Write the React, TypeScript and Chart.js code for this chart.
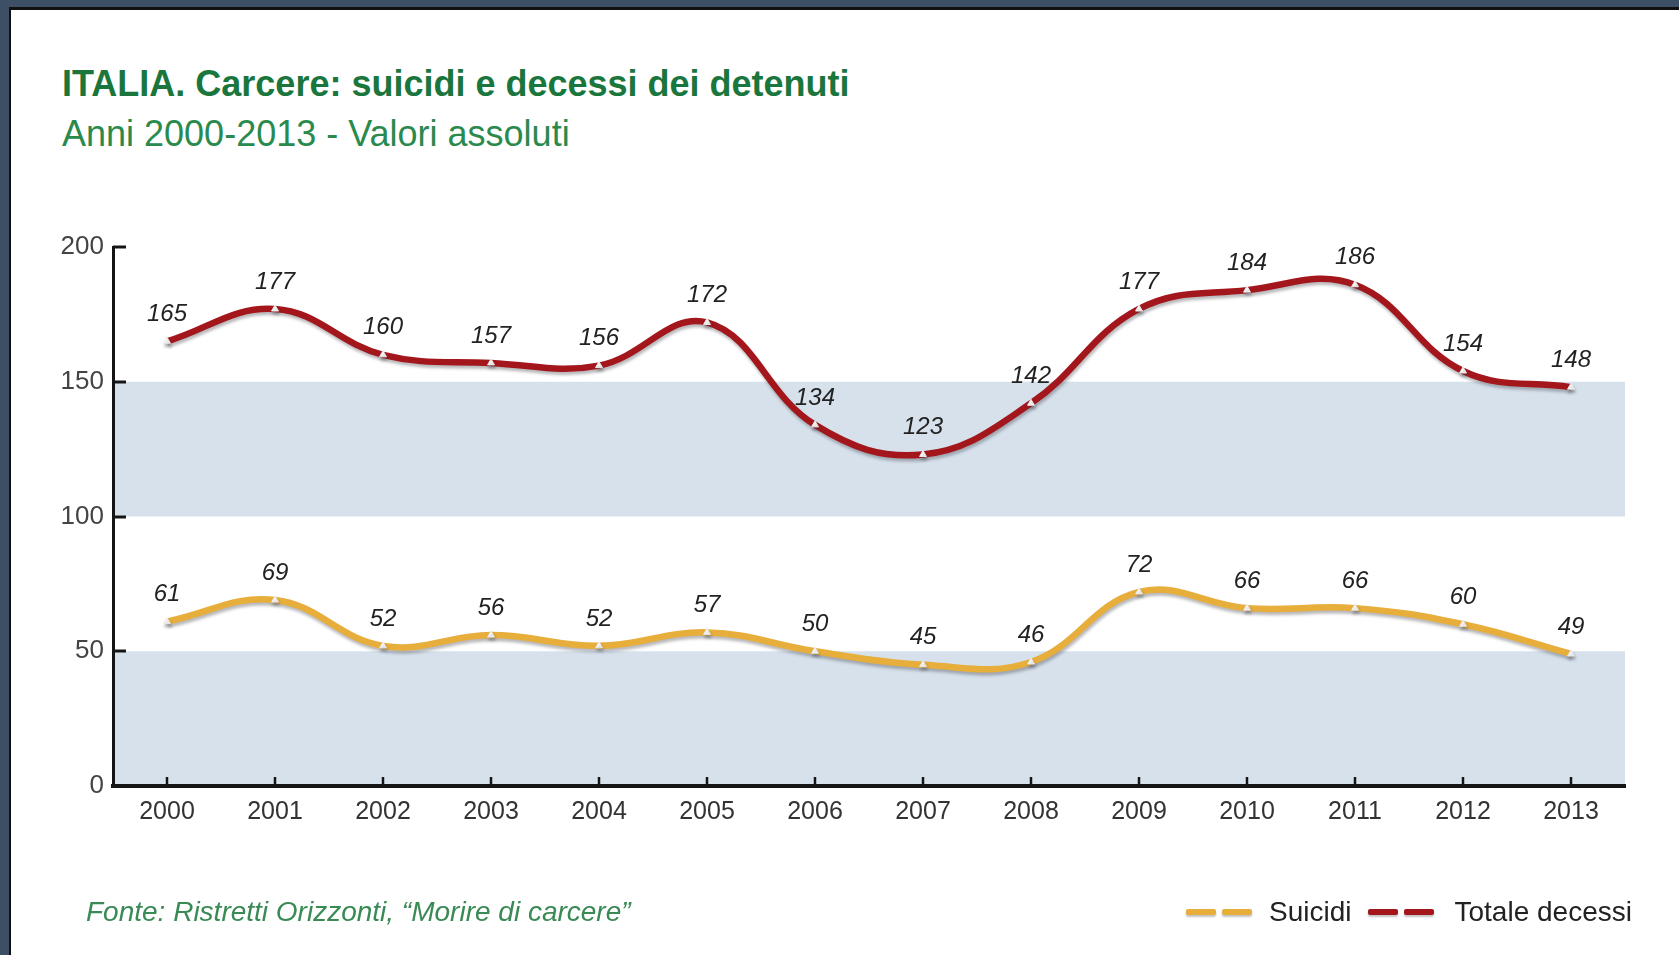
import React, { useEffect, useRef } from "react";
import { Chart, registerables } from "chart.js";

Chart.register(...registerables);

// ---------- data ----------
const years = ["2000", "2001", "2002", "2003", "2004", "2005", "2006", "2007", "2008", "2009", "2010", "2011", "2012", "2013"];
const totaleDecessi = [165, 177, 160, 157, 156, 172, 134, 123, 142, 177, 184, 186, 154, 148];
const suicidi = [61, 69, 52, 56, 52, 57, 50, 45, 46, 72, 66, 66, 60, 49];
const yTicks = [0, 50, 100, 150, 200];
const bandRanges = [[0, 50], [100, 150]];
const seriesNames = ["Suicidi", "Totale decessi"];
const titleText = "ITALIA. Carcere: suicidi e decessi dei detenuti";
const subtitleText = "Anni 2000-2013 - Valori assoluti";
const sourceText = "Fonte: Ristretti Orizzonti, \u201CMorire di carcere\u201D";

// ---------- styles ----------
const RED = "#a3161b";
const YELLOW = "#e7ae3b";
const BAND = "#d6e1ec";
const AXIS = "#151515";
const FONT = "'Liberation Sans', Arial, sans-serif";

const decorPlugin = {
  id: "decor",
  beforeDraw(chart: any) {
    const { ctx, chartArea, scales } = chart;
    const y = scales.y;
    ctx.save();
    ctx.fillStyle = BAND;
    bandRanges.forEach(([a, b]) => {
      const y1 = y.getPixelForValue(b);
      const y2 = y.getPixelForValue(a);
      ctx.fillRect(chartArea.left, y1, chartArea.right - chartArea.left, y2 - y1);
    });
    ctx.restore();
  },
  beforeDatasetDraw(chart: any) {
    const ctx = chart.ctx;
    ctx.save();
    ctx.shadowColor = "rgba(70,70,80,0.38)";
    ctx.shadowOffsetX = 1;
    ctx.shadowOffsetY = 3;
    ctx.shadowBlur = 3;
  },
  afterDatasetDraw(chart: any) {
    chart.ctx.restore();
  },
  afterDatasetsDraw(chart: any) {
    const { ctx } = chart;
    ctx.save();
    ctx.font = `italic 24px ${FONT}`;
    ctx.fillStyle = "#222";
    ctx.textAlign = "center";
    ctx.textBaseline = "middle";
    chart.data.datasets.forEach((ds: any, i: number) => {
      const meta = chart.getDatasetMeta(i);
      meta.data.forEach((pt: any, j: number) => {
        ctx.fillText(String(ds.data[j]), pt.x, pt.y - 27);
      });
    });
    ctx.restore();
  },
  afterDraw(chart: any) {
    const { ctx, chartArea, scales } = chart;
    ctx.save();
    ctx.strokeStyle = AXIS;
    ctx.lineWidth = 3;
    scales.y.ticks.forEach((t: any) => {
      const py = Math.round(scales.y.getPixelForValue(t.value));
      ctx.beginPath();
      ctx.moveTo(chartArea.left, py);
      ctx.lineTo(chartArea.left + 13, py);
      ctx.stroke();
    });
    ctx.lineWidth = 2.5;
    years.forEach((_, i) => {
      const px = scales.x.getPixelForValue(i);
      ctx.beginPath();
      ctx.moveTo(px, chartArea.bottom);
      ctx.lineTo(px, chartArea.bottom - 9);
      ctx.stroke();
    });
    ctx.restore();
  },
};

const CANVAS_W = 1660;
const CANVAS_H = 745;

function LegendSwatch({ color }: { color: string }) {
  const seg: React.CSSProperties = {
    width: 30,
    height: 6,
    background: color,
    borderRadius: 2,
    boxShadow: "0 2px 2px rgba(80,80,80,0.35)",
  };
  return (
    <div style={{ display: "flex", alignItems: "center", gap: 6, width: 67 }}>
      <div style={seg} />
      <div style={seg} />
    </div>
  );
}

export default function App() {
  const ref = useRef<HTMLCanvasElement | null>(null);

  useEffect(() => {
    if (!ref.current) return;
    const chart = new Chart(ref.current, {
      type: "line",
      data: {
        labels: years,
        datasets: [
          {
            label: seriesNames[1],
            data: totaleDecessi,
            borderColor: RED,
            backgroundColor: RED,
            borderWidth: 6.5,
            tension: 0.4,
            pointStyle: "triangle",
            pointRadius: 4,
            pointBackgroundColor: "#ffffff",
            pointBorderColor: "#e8e8e8",
            pointBorderWidth: 1,
          },
          {
            label: seriesNames[0],
            data: suicidi,
            borderColor: YELLOW,
            backgroundColor: YELLOW,
            borderWidth: 6.5,
            tension: 0.4,
            pointStyle: "triangle",
            pointRadius: 4,
            pointBackgroundColor: "#ffffff",
            pointBorderColor: "#e8e8e8",
            pointBorderWidth: 1,
          },
        ],
      },
      options: {
        animation: false,
        responsive: false,
        devicePixelRatio: 1,
        layout: { padding: { left: 0, right: 45, top: 45, bottom: 0 } },
        plugins: {
          legend: { display: false },
          tooltip: { enabled: false },
          title: { display: false },
        },
        scales: {
          x: {
            type: "category",
            offset: true,
            grid: { display: false, drawTicks: false },
            border: { display: true, color: AXIS, width: 4 },
            ticks: {
              color: "#333",
              font: { family: FONT, size: 25 },
              padding: 11,
              maxRotation: 0,
              autoSkip: false,
            },
            afterFit: (s: any) => {
              s.height = 161;
            },
          },
          y: {
            min: 0,
            max: 200,
            grid: { display: false, drawTicks: false },
            border: { display: true, color: AXIS, width: 3 },
            ticks: {
              color: "#444",
              font: { family: FONT, size: 26 },
              padding: 9,
              stepSize: 50,
            },
            afterBuildTicks: (s: any) => {
              s.ticks = yTicks.map((v) => ({ value: v }));
            },
            afterFit: (s: any) => {
              s.width = 103;
            },
          },
        },
      },
      plugins: [decorPlugin],
    } as any);
    return () => chart.destroy();
  }, []);

  return (
    <div
      style={{
        position: "fixed",
        left: 0,
        top: 0,
        width: 1679,
        height: 955,
        background: "#3c4f65",
        overflow: "hidden",
        fontFamily: FONT,
      }}
    >
      <div
        style={{
          position: "absolute",
          left: 9,
          top: 7,
          right: 0,
          bottom: 0,
          background: "#ffffff",
          borderTop: "3px solid #111",
          borderLeft: "2px solid #111",
        }}
      />
      <div
        style={{
          position: "absolute",
          left: 62,
          top: 66,
          fontSize: 36,
          lineHeight: "36px",
          fontWeight: "bold",
          color: "#1a763c",
          whiteSpace: "nowrap",
        }}
      >
        {titleText}
      </div>
      <div
        style={{
          position: "absolute",
          left: 62,
          top: 116,
          fontSize: 36,
          lineHeight: "36px",
          color: "#2a8a4e",
          whiteSpace: "nowrap",
        }}
      >
        {subtitleText}
      </div>
      <canvas
        ref={ref}
        width={CANVAS_W}
        height={CANVAS_H}
        style={{ position: "absolute", left: 10, top: 202, width: CANVAS_W, height: CANVAS_H, display: "block" }}
      />
      <div
        style={{
          position: "absolute",
          left: 86,
          top: 898,
          fontSize: 28,
          lineHeight: "28px",
          fontStyle: "italic",
          color: "#3a8a55",
          whiteSpace: "nowrap",
        }}
      >
        {sourceText}
      </div>
      <div
        style={{
          position: "absolute",
          left: 1186,
          top: 898,
          height: 28,
          display: "flex",
          alignItems: "center",
          fontSize: 28,
          lineHeight: "28px",
          color: "#222",
          whiteSpace: "nowrap",
        }}
      >
        <LegendSwatch color={YELLOW} />
        <span style={{ marginLeft: 16, marginRight: 17 }}>{seriesNames[0]}</span>
        <LegendSwatch color={RED} />
        <span style={{ marginLeft: 19 }}>{seriesNames[1]}</span>
      </div>
    </div>
  );
}
